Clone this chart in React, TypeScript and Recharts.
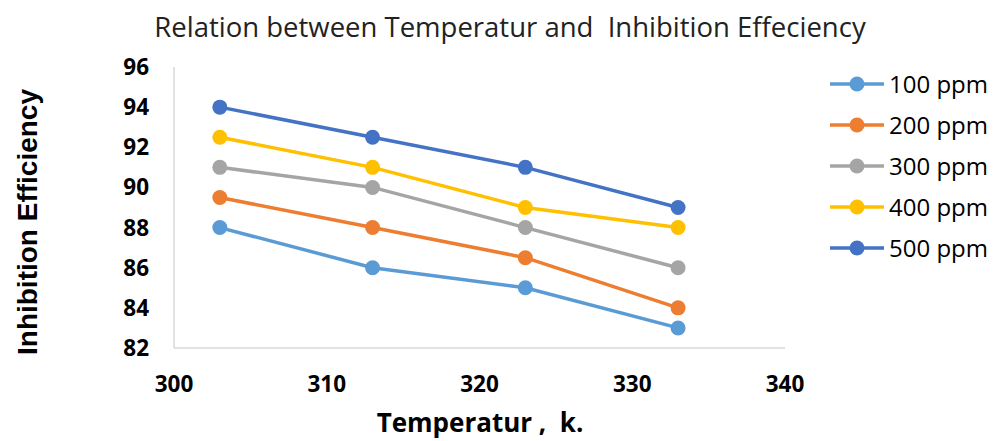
import { LineChart, Line, XAxis, YAxis } from "recharts";

const temps = [303, 313, 323, 333];
const ppm100 = [88, 86, 85, 83];
const ppm200 = [89.5, 88, 86.5, 84];
const ppm300 = [91, 90, 88, 86];
const ppm400 = [92.5, 91, 89, 88];
const ppm500 = [94, 92.5, 91, 89];
const xTicks = [300, 310, 320, 330, 340];
const yTicks = [82, 84, 86, 88, 90, 92, 94, 96];

const series = [
  { key: "p100", name: "100 ppm", color: "#5B9BD5" },
  { key: "p200", name: "200 ppm", color: "#ED7D31" },
  { key: "p300", name: "300 ppm", color: "#A5A5A5" },
  { key: "p400", name: "400 ppm", color: "#FFC000" },
  { key: "p500", name: "500 ppm", color: "#4472C4" },
];

const data = temps.map((t, i) => ({
  t,
  p100: ppm100[i],
  p200: ppm200[i],
  p300: ppm300[i],
  p400: ppm400[i],
  p500: ppm500[i],
}));

const bodyFont = "'Open Sans', sans-serif";
const tickStyle = { fill: "#000", fontSize: 22.5, fontWeight: 700, fontFamily: bodyFont };

export default function App() {
  return (
    <div style={{ position: "absolute", left: 0, top: 0, width: 995, height: 441, background: "#fff" }}>
      <LineChart
        width={995}
        height={441}
        data={data}
        margin={{ top: 67, right: 210, bottom: 0, left: 0 }}
      >
        <XAxis
          dataKey="t"
          type="number"
          domain={[300, 340]}
          ticks={xTicks}
          height={93}
          tickSize={0}
          tickMargin={28}
          axisLine={{ stroke: "#d9d9d9", strokeWidth: 1.5 }}
          tick={tickStyle}
        />
        <YAxis
          type="number"
          domain={[82, 96]}
          ticks={yTicks}
          width={174}
          tickSize={0}
          tickMargin={25}
          axisLine={{ stroke: "#d9d9d9", strokeWidth: 1.5 }}
          tick={tickStyle}
        />
        {series.map((s) => (
          <Line
            key={s.key}
            dataKey={s.key}
            name={s.name}
            stroke={s.color}
            strokeWidth={3.5}
            dot={{ r: 7.5, fill: s.color, stroke: "none" }}
            activeDot={false}
            isAnimationActive={false}
          />
        ))}
      </LineChart>
      <svg
        width={995}
        height={441}
        style={{ position: "absolute", left: 0, top: 0, pointerEvents: "none" }}
      >
        <text
          x={510}
          y={37}
          textAnchor="middle"
          fontSize={27.5}
          fontFamily={bodyFont}
          fill="#222"
          style={{ whiteSpace: "pre" }}
        >
          {"Relation between Temperatur and  Inhibition Effeciency"}
        </text>
        <text
          x={480}
          y={432}
          textAnchor="middle"
          fontSize={26}
          fontWeight={700}
          fontFamily={bodyFont}
          fill="#000"
          style={{ whiteSpace: "pre" }}
        >
          {"Temperatur ,  k."}
        </text>
        <text
          transform="translate(37, 222) rotate(-90)"
          textAnchor="middle"
          fontSize={28}
          fontWeight={700}
          fontFamily="'Liberation Sans', Arial, sans-serif"
          fill="#000"
        >
          Inhibition Efficiency
        </text>
        {/* legend */}
        {series.map((s, i) => {
          const y = 84 + i * 41;
          return (
            <g key={s.key}>
              <line x1={830} x2={884} y1={y} y2={y} stroke={s.color} strokeWidth={3.5} />
              <circle cx={857} cy={y} r={7.5} fill={s.color} />
              <text x={889} y={y + 8.5} fontSize={24} fontFamily={bodyFont} fill="#000">
                {s.name}
              </text>
            </g>
          );
        })}
      </svg>
    </div>
  );
}
